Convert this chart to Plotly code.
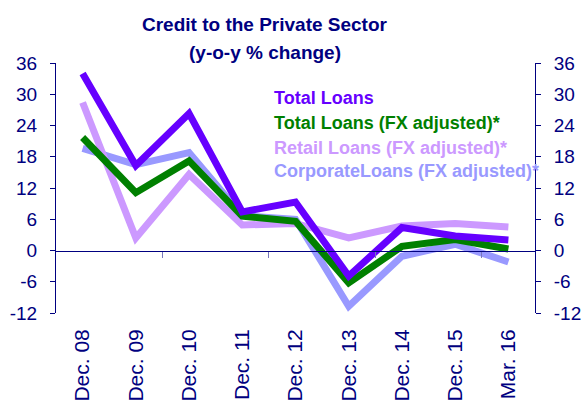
import plotly.graph_objects as go

categories = ["Dec. 08", "Dec. 09", "Dec. 10", "Dec. 11", "Dec. 12",
              "Dec. 13", "Dec. 14", "Dec. 15", "Mar. 16"]
total_loans = [34.0, 16.3, 26.3, 7.4, 9.3, -4.9, 4.4, 2.8, 2.0]
total_fx_adj = [21.7, 11.1, 17.2, 6.6, 5.6, -6.2, 0.8, 2.1, 0.3]
retail_fx_adj = [28.4, 2.4, 14.6, 4.9, 5.2, 2.4, 4.7, 5.2, 4.5]
corporate_fx_adj = [19.6, 16.5, 18.8, 6.7, 6.0, -10.7, -1.1, 1.2, -2.2]
y_ticks = [-12, -6, 0, 6, 12, 18, 24, 30, 36]
y_tick_labels = ["-12", "-6", "0", "6", "12", "18", "24", "30", "36"]
boundary_ticks = [1.5, 3.5, 5.5, 7.5]
title_lines = ["Credit to the Private Sector", "(y-o-y % change)"]

series = [
    ("CorporateLoans (FX adjusted)*", corporate_fx_adj, "#9999FF"),
    ("Retail Loans (FX adjusted)*", retail_fx_adj, "#CC99FF"),
    ("Total Loans (FX adjusted)*", total_fx_adj, "#008000"),
    ("Total Loans", total_loans, "#6600FF"),
]

NAVY = "#000080"
FONT = "Liberation Sans, Arial, sans-serif"

fig = go.Figure()
for name, vals, color in series:
    fig.add_trace(go.Scatter(x=categories, y=vals, name=name, mode="lines",
                             line=dict(color=color, width=7),
                             showlegend=False))

# invisible traces to activate the secondary axes
fig.add_trace(go.Scatter(x=categories, y=[None] * len(categories), xaxis="x2",
                         yaxis="y", showlegend=False, hoverinfo="skip"))
fig.add_trace(go.Scatter(x=categories, y=[None] * len(categories), xaxis="x",
                         yaxis="y2", showlegend=False, hoverinfo="skip"))

# legend as coloured text
legend_order = [
    ("Total Loans", "#6600FF", 0.86),
    ("Total Loans (FX adjusted)*", "#008000", 0.761),
    ("Retail Loans (FX adjusted)*", "#CC99FF", 0.66),
    ("CorporateLoans (FX adjusted)*", "#9999FF", 0.569),
]
annotations = []
for text, color, ypos in legend_order:
    annotations.append(dict(text="<b>%s</b>" % text, xref="paper", yref="paper",
                            x=0.451, y=ypos, xanchor="left", yanchor="middle",
                            showarrow=False,
                            font=dict(family=FONT, size=18, color=color)))
for text, ypos in zip(title_lines, [1.156, 1.04]):
    annotations.append(dict(text="<b>%s</b>" % text, xref="paper", yref="paper",
                            x=0.436, y=ypos, xanchor="center", yanchor="middle",
                            showarrow=False,
                            font=dict(family=FONT, size=19, color=NAVY)))

axis_common = dict(range=[-12, 36], tickmode="array", tickvals=y_ticks,
                   ticktext=y_tick_labels, showgrid=False,
                   zeroline=False, showline=True, linecolor=NAVY, linewidth=1,
                   ticks="outside", ticklen=5, tickcolor=NAVY,
                   tickfont=dict(family=FONT, size=19, color=NAVY),
                   ticklabelstandoff=9, automargin=False)

fig.update_layout(
    width=587, height=412,
    margin=dict(l=56, r=52, t=63, b=99, autoexpand=False),
    paper_bgcolor="white", plot_bgcolor="white",
    xaxis=dict(type="category", range=[-0.5, 8.5], showgrid=False,
               zeroline=False, showline=False, ticks="", tickangle=-90,
               tickfont=dict(family=FONT, size=21, color=NAVY),
               ticklabelstandoff=11, automargin=False),
    xaxis2=dict(type="category", range=[-0.5, 8.5], overlaying="x",
                anchor="free", position=0.25, showgrid=False, zeroline=False,
                showline=True, linecolor=NAVY, linewidth=1,
                tickmode="array", tickvals=boundary_ticks, ticktext=[""] * 4,
                ticks="outside", ticklen=6, tickcolor="#7777BB",
                showticklabels=False, automargin=False),
    yaxis=dict(side="left", **axis_common),
    yaxis2=dict(side="right", overlaying="y", **axis_common),
    annotations=annotations,
)

fig.write_html("out.html",
               config={"displayModeBar": False},
               post_script="document.body.style.margin='0px';"
                           "document.body.style.overflow='hidden';")
